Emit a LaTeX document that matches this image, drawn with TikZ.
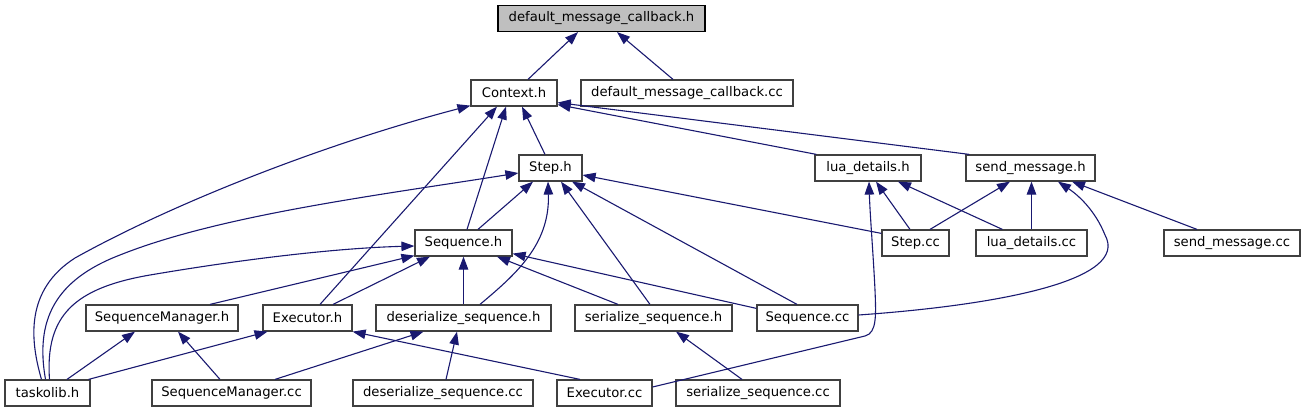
\documentclass[tikz,border=0pt]{standalone}
\usepackage{fontspec}
\setmainfont{DejaVu Sans}
\usetikzlibrary{arrows.meta}
\definecolor{edgec}{RGB}{25,25,112}
\definecolor{boxc}{RGB}{64,64,64}
\definecolor{rootfill}{RGB}{191,191,191}
\begin{document}
\begin{tikzpicture}[x=1pt,y=-1pt,
 box/.style={draw=boxc, line width=1.2pt, fill=white, minimum height=26pt, inner sep=0pt,
   font=\fontsize{13.2}{15}\selectfont, text=black},
 arr/.style={draw=edgec, line width=1.1pt, -{Triangle[length=13pt,width=9.5pt]}}]
\useasboundingbox (0,0) rectangle (1307,411);
% nodes
\node[box, minimum width=207pt, fill=rootfill, draw=black] (dmch) at (601.5,18.5) {default\_message\_callback.h};
\node[box, minimum width=86pt]  (ctx)   at (514,93)    {Context.h};
\node[box, minimum width=212pt] (dmcc)  at (687,93)    {default\_message\_callback.cc};
\node[box, minimum width=63pt]  (steph) at (550.5,168) {Step.h};
\node[box, minimum width=106pt] (luah)  at (868,168)   {lua\_details.h};
\node[box, minimum width=129pt] (smh)   at (1030.5,168){send\_message.h};
\node[box, minimum width=97pt]  (seqh)  at (463.5,243) {Sequence.h};
\node[box, minimum width=67pt]  (stepcc) at (915.5,243){Step.cc};
\node[box, minimum width=111pt] (luacc) at (1031.5,243){lua\_details.cc};
\node[box, minimum width=136pt] (smcc)  at (1232,243)  {send\_message.cc};
\node[box, minimum width=152pt] (smgrh) at (162,318)   {SequenceManager.h};
\node[box, minimum width=89pt]  (exh)   at (307.5,318) {Executor.h};
\node[box, minimum width=175pt] (dsh)   at (463.5,318) {deserialize\_sequence.h};
\node[box, minimum width=157pt] (ssh)   at (653.5,318) {serialize\_sequence.h};
\node[box, minimum width=101pt] (seqcc) at (807.5,318) {Sequence.cc};
\node[box, minimum width=85pt]  (task)  at (47.5,393)  {taskolib.h};
\node[box, minimum width=159pt] (smgrcc) at (231.5,393){SequenceManager.cc};
\node[box, minimum width=180pt] (dscc)  at (443,393)   {deserialize\_sequence.cc};
\node[box, minimum width=95pt]  (excc)  at (604.5,393) {Executor.cc};
\node[box, minimum width=164pt] (sscc)  at (758,393)   {serialize\_sequence.cc};
% edges to default_message_callback.h
\draw[arr] ([xshift=14pt]ctx.north) -- ([xshift=-23.5pt]dmch.south);
\draw[arr] ([xshift=-14pt]dmcc.north) -- ([xshift=15.5pt]dmch.south);
% edges to Context.h
\draw[arr] ([xshift=-6pt]task.north) .. controls (30,340) and (25,290) .. (75,258)
   .. controls (170,205) and (320,145) .. ([yshift=1pt]ctx.south west);
\draw[arr] ([xshift=12.5pt]exh.north) -- ([xshift=-17pt]ctx.south);
\draw[arr] ([xshift=3.5pt]seqh.north) -- ([xshift=-8pt]ctx.south);
\draw[arr] ([xshift=-5.5pt]steph.north) -- ([xshift=8pt]ctx.south);
\draw[arr] ([xshift=2pt]luah.north west) -- ([yshift=2pt]ctx.south east);
\draw[arr] ([xshift=4pt]smh.north west) -- ([yshift=4pt]ctx.south east);
% edges to Step.h
\draw[arr] ([xshift=-2pt]task.north) .. controls (35,320) and (55,280) .. (120,255)
   .. controls (220,215) and (380,195) .. ([yshift=-5pt]steph.west);
\draw[arr] ([xshift=14.5pt]seqh.north) -- ([xshift=-17.5pt]steph.south);
\draw[arr] ([xshift=16.5pt]dsh.north) .. controls (515,275) and (550,245) .. ([xshift=-2.5pt]steph.south);
\draw[arr] ([xshift=-3.5pt]ssh.north) -- ([xshift=10.5pt]steph.south);
\draw[arr] ([xshift=-10.5pt]seqcc.north) -- ([xshift=21.5pt]steph.south);
\draw[arr] ([yshift=-4pt]stepcc.north west) -- ([yshift=-7pt]steph.east);
% edges to lua_details.h
\draw[arr] ([xshift=-5.5pt]stepcc.north) -- ([xshift=8pt]luah.south);
\draw[arr] ([yshift=6pt]excc.east) -- (865,336) .. controls (877,333) and (876,315) .. (875,290)
   .. controls (873,250) and (870,215) .. ([xshift=1pt]luah.south);
\draw[arr] ([xshift=27pt]luacc.north west) -- ([xshift=30pt]luah.south);
% edges to send_message.h
\draw[arr] ([xshift=14.5pt]stepcc.north) -- ([xshift=-20.5pt]smh.south);
\draw[arr] (luacc.north) -- ([xshift=1pt]smh.south);
\draw[arr] ([yshift=3pt]seqcc.east) .. controls (1000,305) and (1130,280) .. (1105,235)
   .. controls (1095,210) and (1078,195) .. ([xshift=27.5pt]smh.south);
\draw[arr] ([xshift=-35pt]smcc.north) -- ([xshift=41.5pt]smh.south);
% edges to Sequence.h
\draw[arr] ([xshift=2pt]task.north) .. controls (45,315) and (75,288) .. (150,275)
   .. controls (250,258) and (340,248) .. ([yshift=-3pt]seqh.west);
\draw[arr] ([xshift=48pt]smgrh.north) -- ([yshift=1pt]seqh.south west);
\draw[arr] ([xshift=25.5pt]exh.north) -- ([xshift=-33.5pt]seqh.south);
\draw[arr] (dsh.north) -- (seqh.south);
\draw[arr] ([xshift=-35.5pt]ssh.north) -- ([xshift=33.5pt]seqh.south);
\draw[arr] ([yshift=-4pt]seqcc.north west) -- ([yshift=3pt]seqh.south east);
% edges to SequenceManager.h
\draw[arr] ([xshift=19.5pt]task.north) -- ([xshift=-27pt]smgrh.south);
\draw[arr] ([xshift=-11.5pt]smgrcc.north) -- ([xshift=16pt]smgrh.south);
% edges to Executor.h
\draw[arr] ([xshift=-2pt]task.north east) -- ([xshift=-40pt]exh.south);
\draw[arr] ([xshift=-24.5pt]excc.north) -- (exh.south east);
% edges to deserialize_sequence.h
\draw[arr] ([xshift=43.5pt]smgrcc.north) -- ([xshift=-40pt]dsh.south);
\draw[arr] ([xshift=3pt]dscc.north) -- ([xshift=-6.5pt]dsh.south);
% edge to serialize_sequence.h
\draw[arr] ([xshift=-16pt]sscc.north) -- ([xshift=22.5pt]ssh.south);
\end{tikzpicture}
\end{document}
